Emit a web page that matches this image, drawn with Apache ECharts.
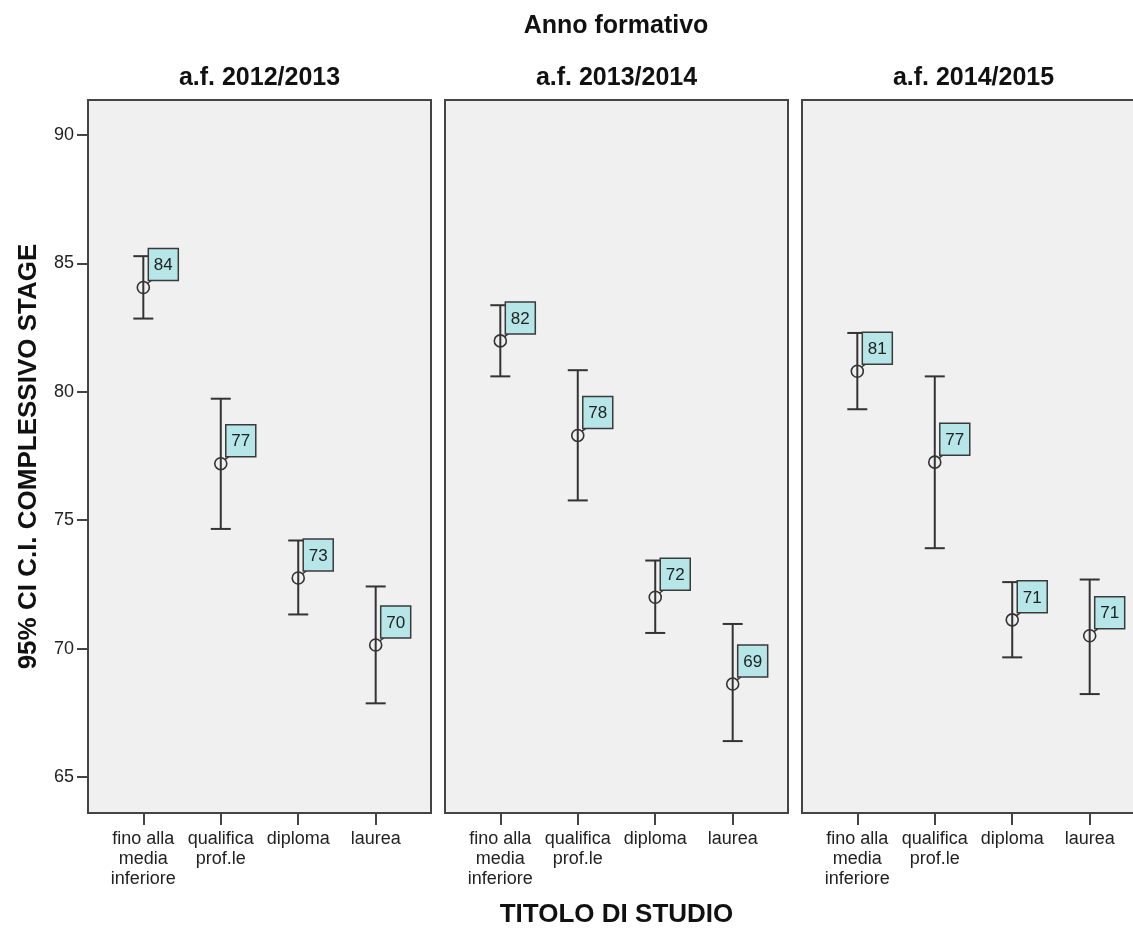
<!DOCTYPE html>
<html>
<head>
<meta charset="utf-8">
<script src="https://cdn.jsdelivr.net/npm/echarts@6/dist/echarts.min.js"></script>
<style>html,body{margin:0;padding:0;background:#fff}#c{width:1133px;height:929px}</style>
</head>
<body>
<div id="c"></div>
<script>
const categories = ['fino alla\nmedia\ninferiore', 'qualifica\nprof.le', 'diploma', 'laurea'];
const panelTitles = ['a.f. 2012/2013', 'a.f. 2013/2014', 'a.f. 2014/2015'];
const yTicks = [65, 70, 75, 80, 85, 90];

const mean2012 = [84.06, 77.20, 72.75, 70.14];
const lower2012 = [82.85, 74.66, 71.33, 67.87];
const upper2012 = [85.28, 79.73, 74.21, 72.42];
const label2012 = [84, 77, 73, 70];

const mean2013 = [81.98, 78.30, 72.00, 68.62];
const lower2013 = [80.60, 75.77, 70.61, 66.40];
const upper2013 = [83.37, 80.84, 73.43, 70.96];
const label2013 = [82, 78, 72, 69];

const mean2014 = [80.80, 77.26, 71.12, 70.50];
const lower2014 = [79.32, 73.91, 69.66, 68.23];
const upper2014 = [82.29, 80.60, 72.59, 72.69];
const label2014 = [81, 77, 71, 71];

const panels = [
  [mean2012, lower2012, upper2012, label2012],
  [mean2013, lower2013, upper2013, label2013],
  [mean2014, lower2014, upper2014, label2014]
];

const FONT = '"Liberation Sans", Arial, sans-serif';
const gridLefts = [88, 445, 802];
const gridWidth = 343;
const gridTop = 100, gridHeight = 713;

function renderItem(params, api) {
  const x = api.value(0), m = api.value(1), lo = api.value(2), hi = api.value(3), lab = api.value(4);
  const pm = api.coord([x, m]);
  const pl = api.coord([x, lo]);
  const ph = api.coord([x, hi]);
  const cx = pm[0], cy = pm[1];
  const stroke = '#333';
  const capW = 10;
  const r = 6;
  const bw = 30, bh = 32;
  const bx = cx + 5, by = cy - 7 - bh;
  return {
    type: 'group',
    children: [
      { type: 'line', shape: { x1: cx, y1: pl[1], x2: cx, y2: ph[1] }, style: { stroke: stroke, lineWidth: 2 } },
      { type: 'line', shape: { x1: cx - capW, y1: pl[1], x2: cx + capW, y2: pl[1] }, style: { stroke: stroke, lineWidth: 2 } },
      { type: 'line', shape: { x1: cx - capW, y1: ph[1], x2: cx + capW, y2: ph[1] }, style: { stroke: stroke, lineWidth: 2 } },
      { type: 'circle', shape: { cx: cx, cy: cy, r: r }, style: { fill: 'rgba(0,0,0,0)', stroke: stroke, lineWidth: 1.6 } },
      { type: 'line', shape: { x1: cx + 4, y1: cy - 4, x2: bx + 3, y2: by + bh }, style: { stroke: stroke, lineWidth: 1.5 } },
      { type: 'rect', shape: { x: bx, y: by, width: bw, height: bh }, style: { fill: '#b6e6e8', stroke: '#3a3a3a', lineWidth: 1.5 } },
      { type: 'text', style: { x: bx + bw / 2, y: by + bh / 2 + 1, text: String(lab), fill: '#222', font: '17px ' + FONT, align: 'center', verticalAlign: 'middle' } }
    ]
  };
}

const grids = [], xAxes = [], yAxes = [], series = [];
for (let i = 0; i < 3; i++) {
  grids.push({ left: gridLefts[i], top: gridTop, width: gridWidth, height: gridHeight, show: true,
    backgroundColor: '#f0f0f0', borderColor: '#444', borderWidth: 2, containLabel: false, outerBoundsMode: 'none' });
  xAxes.push({
    type: 'value', gridIndex: i, min: -0.714, max: 3.714, position: 'bottom',
    splitLine: { show: false }, axisLine: { show: false, onZero: false },
    axisTick: { show: true, customValues: [0, 1, 2, 3], length: 12, lineStyle: { color: '#444', width: 2 } },
    axisLabel: { show: true, customValues: [0, 1, 2, 3], formatter: v => categories[Math.round(v)],
      fontFamily: FONT, fontSize: 18, color: '#222', lineHeight: 20, margin: 16 },
    name: i === 1 ? 'TITOLO DI STUDIO' : '', nameLocation: 'middle', nameGap: 89,
    nameTextStyle: { fontFamily: FONT, fontSize: 26, fontWeight: 'bold', color: '#111' }
  });
  yAxes.push({
    type: 'value', gridIndex: i, min: 63.6, max: 91.36, show: i === 0, position: 'left',
    splitLine: { show: false }, axisLine: { show: false, onZero: false },
    axisTick: { show: true, customValues: yTicks, length: 11, lineStyle: { color: '#444', width: 2 } },
    axisLabel: { show: true, customValues: yTicks, fontFamily: FONT, fontSize: 18, color: '#222', margin: 14 },
    name: i === 0 ? '95% CI C.I. COMPLESSIVO STAGE' : '', nameLocation: 'middle', nameGap: 46,
    nameTextStyle: { fontFamily: FONT, fontSize: 26, fontWeight: 'bold', color: '#111' }
  });
  const [mm, lo, hi, lab] = panels[i];
  const data = categories.map((c, k) => [k, mm[k], lo[k], hi[k], lab[k]]);
  series.push({ type: 'custom', xAxisIndex: i, yAxisIndex: i, renderItem: renderItem, data: data, clip: false,
    encode: { x: 0, y: [1, 2, 3] }, silent: true });
}

const graphics = [
  { type: 'text', x: 616, y: 26, style: { text: 'Anno formativo', font: 'bold 25px ' + FONT, fill: '#111', align: 'center', verticalAlign: 'middle' } }
];
for (let i = 0; i < 3; i++) {
  graphics.push({ type: 'text', x: gridLefts[i] + gridWidth / 2, y: 78,
    style: { text: panelTitles[i], font: 'bold 25px ' + FONT, fill: '#111', align: 'center', verticalAlign: 'middle' } });
}

const chart = echarts.init(document.getElementById('c'), null, { renderer: 'canvas' });
chart.setOption({
  backgroundColor: '#fff',
  animation: false,
  grid: grids, xAxis: xAxes, yAxis: yAxes, series: series, graphic: graphics
});
</script>
</body>
</html>
